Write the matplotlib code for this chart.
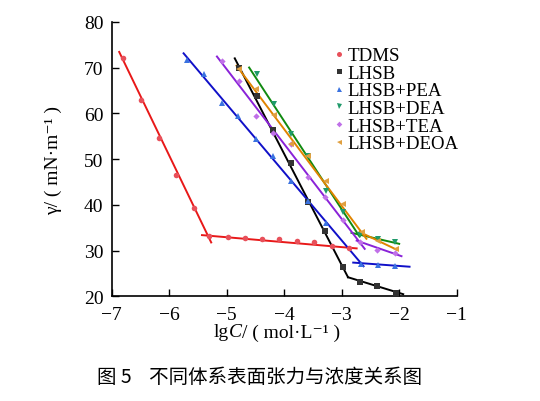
import matplotlib
matplotlib.use("Agg")
import matplotlib.pyplot as plt
import numpy as np

plt.rcParams['font.family'] = ['Liberation Serif', 'DejaVu Serif']

# ---- data ----
names = ['TDMS', 'LHSB', 'LHSB+PEA', 'LHSB+DEA', 'LHSB+TEA', 'LHSB+DEOA']

tdms_x = [-6.80, -6.49, -6.18, -5.88, -5.57, -5.30, -4.97, -4.68, -4.38, -4.09, -3.78, -3.48, -3.17, -2.87]
tdms_y = [72.0, 63.0, 54.6, 46.6, 39.4, 33.1, 32.9, 32.8, 32.6, 32.5, 32.1, 31.8, 31.0, 30.5]

lhsb_x = [-4.78, -4.48, -4.19, -3.88, -3.58, -3.29, -2.97, -2.68, -2.38, -2.06]
lhsb_y = [69.8, 63.7, 56.4, 49.2, 40.7, 34.3, 26.4, 23.2, 22.3, 20.8]

pea_x = [-5.69, -5.39, -5.09, -4.80, -4.49, -4.19, -3.88, -3.58, -3.27, -2.67, -2.37, -2.07]
pea_y = [71.6, 68.6, 62.3, 59.5, 54.4, 50.6, 45.2, 40.8, 36.1, 27.1, 26.9, 26.7]

dea_x = [-4.48, -4.18, -3.88, -3.58, -3.27, -2.97, -2.68, -2.37, -2.07]
dea_y = [68.6, 62.0, 55.5, 50.7, 43.1, 38.4, 33.4, 32.5, 31.9]

tea_x = [-5.09, -4.79, -4.49, -4.19, -3.89, -3.58, -3.29, -2.98, -2.68, -2.38, -2.07]
tea_y = [71.4, 67.0, 59.5, 55.6, 53.3, 46.0, 41.7, 36.8, 32.0, 30.2, 29.4]

deoa_x = [-4.79, -4.49, -4.18, -3.88, -3.58, -3.27, -2.97, -2.65, -2.36, -2.06]
deoa_y = [69.7, 65.3, 59.6, 53.3, 50.6, 45.3, 40.3, 34.0, 32.2, 30.4]

# fitted line segments (x0, y0, x1, y1)
tdms_fit = [(-6.87, 73.4, -5.27, 31.8), (-5.43, 33.4, -2.74, 30.5)]
lhsb_fit = [(-4.86, 72.0, -2.89, 24.2), (-2.89, 24.2, -1.93, 20.5)]
pea_fit = [(-5.75, 73.1, -2.62, 26.6), (-2.80, 27.4, -1.82, 26.5)]
dea_fit = [(-4.61, 70.0, -2.69, 33.1), (-2.83, 33.9, -2.00, 31.5)]
tea_fit = [(-5.17, 72.4, -2.60, 30.4), (-2.74, 32.2, -1.96, 28.8)]
deoa_fit = [(-4.83, 70.4, -2.57, 32.6), (-2.69, 34.1, -2.04, 30.2)]

xticks = [-7, -6, -5, -4, -3, -2, -1]
yticks = [20, 30, 40, 50, 60, 70, 80]

series = [
    (tdms_x, tdms_y, tdms_fit, 'o', '#e8505a', '#e81818'),
    (lhsb_x, lhsb_y, lhsb_fit, 's', '#333333', '#000000'),
    (pea_x, pea_y, pea_fit, '^', '#3a72e0', '#1010c8'),
    (dea_x, dea_y, dea_fit, 'v', '#1f9a6a', '#108a10'),
    (tea_x, tea_y, tea_fit, 'D', '#c070e8', '#8a22d8'),
    (deoa_x, deoa_y, deoa_fit, '<', '#e0a040', '#e08400'),
]

fig = plt.figure(figsize=(5.4, 4.02), dpi=100)
ax = fig.add_axes([0.2069, 0.260, 0.6388, 0.6835])

handles = []
for (xs, ys, fits, mk, mcol, lcol), name in zip(series, names):
    for (x0, y0, x1, y1) in fits:
        ax.plot([x0, x1], [y0, y1], color=lcol, lw=1.4, zorder=2)
    ms = 4.0 if mk != 'D' else 3.2
    h = ax.plot(xs, ys, linestyle='none', marker=mk, color=mcol, ms=ms,
                markeredgewidth=0, zorder=3, label=name)[0]
    handles.append(h)

ax.set_xlim(-7, -1)
ax.set_ylim(20, 80)
ax.set_xticks(xticks)
ax.set_yticks(yticks)
ax.set_xticklabels([('\u2212%d' % abs(t)) for t in xticks])
ax.set_yticklabels([str(t) for t in yticks])
ax.tick_params(direction='in', length=5, width=1, labelsize=14)
ax.tick_params(axis='x', pad=7)
ax.tick_params(axis='y', pad=6)
ax.spines['top'].set_visible(False)
ax.spines['right'].set_visible(False)
for s in ['left', 'bottom']:
    ax.spines[s].set_linewidth(1.2)

lab_fam = ['Liberation Serif', 'DejaVu Serif']
ax.set_ylabel('γ/ ( mN·m⁻¹ )', fontsize=14, family=lab_fam)
ax.yaxis.set_label_coords(-0.144, 0.5)

# x label composed of pieces (italic C)
pieces = [('lg', 'normal'), ('C', 'italic'), ('/ ( mol·L⁻¹ )', 'normal')]
fig.canvas.draw()
renderer = fig.canvas.get_renderer()
texts = []
widths = []
for s, st in pieces:
    t = fig.text(0, 0.172, s, fontsize=14, style=st, family=lab_fam,
                 ha='left', va='center')
    texts.append(t)
    widths.append(t.get_window_extent(renderer).width)
total = sum(widths)
cx = 277.0
x = cx - total / 2
for t, w in zip(texts, widths):
    t.set_x(x / fig.bbox.width)
    x += w

leg = ax.legend(handles=handles, loc='upper left', bbox_to_anchor=(0.647, 0.908),
                frameon=False, fontsize=13.6, handlelength=0.4, handletextpad=0.25,
                labelspacing=0.02, borderaxespad=0.0, borderpad=0.0, markerscale=0.9)

fig.text(0.48, 0.06, '图 5    不同体系表面张力与浓度关系图', ha='center', va='center',
         fontsize=14, family=['Noto Sans CJK SC', 'DejaVu Sans'])

fig.savefig('out.png', dpi=100)
